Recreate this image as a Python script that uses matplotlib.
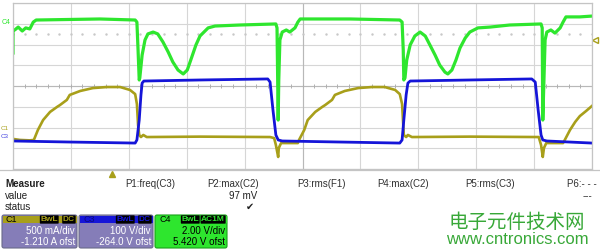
import matplotlib
matplotlib.use("Agg")
import matplotlib.pyplot as plt
from matplotlib.patches import Rectangle, FancyBboxPatch
import numpy as np

plt.rcParams['font.family'] = ['Liberation Sans', 'DejaVu Sans']

# screen positions in divisions (x: 0..10, y: -4..4)
c1_t = [0.00, 0.12, 0.29, 0.36, 0.43, 0.52, 0.64, 0.76, 0.81, 0.93, 0.98, 1.16, 1.38, 1.62, 1.85,
        2.02, 2.11, 2.14, 2.16, 2.18, 2.21, 2.25, 2.31, 3.23, 4.44, 4.51, 4.54, 4.58, 4.59, 4.63,
        4.92, 4.94, 5.03, 5.09, 5.22, 5.34, 5.39, 5.51, 5.56, 5.73, 5.96, 6.20, 6.42, 6.60, 6.68,
        6.72, 6.74, 6.75, 6.79, 6.82, 6.89, 7.89, 9.08, 9.12, 9.15, 9.17, 9.21, 9.50, 9.53, 9.62,
        9.71, 9.79, 9.90, 10.00]
c1_v = [-2.55, -2.60, -2.62, -2.60, -2.12, -1.64, -1.25, -1.01, -0.92, -0.67, -0.43, -0.24, -0.10,
        -0.05, -0.05, -0.19, -0.39, -0.87, -1.88, -2.36, -2.46, -2.36, -2.46, -2.44, -2.46, -2.51,
        -2.84, -3.42, -2.99, -2.75, -2.75, -2.60, -2.12, -1.64, -1.25, -1.01, -0.92, -0.67, -0.43,
        -0.24, -0.10, -0.05, -0.05, -0.19, -0.39, -0.87, -1.88, -2.36, -2.46, -2.36, -2.46, -2.44,
        -2.46, -2.84, -3.42, -2.99, -2.75, -2.75, -2.60, -2.12, -1.73, -1.45, -1.20, -0.96]

c3_t = [0.00, 0.98, 2.11, 2.14, 2.18, 2.21, 2.23, 2.26, 3.23, 4.40, 4.44, 4.49, 4.54, 4.58, 4.65,
        5.65, 6.68, 6.72, 6.75, 6.79, 6.82, 6.86, 7.89, 8.96, 9.02, 9.07, 9.12, 9.15, 9.22, 10.00]
c3_v = [-2.65, -2.70, -2.75, -2.60, -1.64, -0.43, 0.14, 0.24, 0.29, 0.34, 0.19, -1.16, -2.36, -2.60,
        -2.65, -2.70, -2.75, -2.60, -1.64, -0.43, 0.14, 0.24, 0.29, 0.34, 0.19, -1.16, -2.36, -2.60,
        -2.65, -2.75]

c4_t = [0.00, 0.00, 0.03, 0.09, 0.16, 0.22, 0.29, 0.35, 0.40, 1.50, 2.11, 2.14, 2.16, 2.18, 2.19,
        2.23, 2.28, 2.33, 2.42, 2.50, 2.59, 2.68, 2.76, 2.85, 2.94, 3.01, 3.07, 3.16, 3.23, 3.37,
        3.49, 3.92, 4.54, 4.56, 4.58, 4.59, 4.61, 4.65, 4.72, 4.78, 4.87, 4.92, 4.96, 5.82, 6.68,
        6.72, 6.74, 6.75, 6.77, 6.80, 6.86, 6.94, 7.03, 7.12, 7.20, 7.29, 7.37, 7.46, 7.51, 7.58,
        7.65, 7.72, 7.81, 7.89, 8.03, 8.24, 8.58, 9.12, 9.14, 9.15, 9.17, 9.19, 9.22, 9.29, 9.36,
        9.45, 9.50, 9.55, 9.79, 10.00]
c4_v = [1.59, 2.70, 2.70, 2.84, 2.65, 2.80, 2.75, 3.08, 3.18, 3.23, 3.18, 3.08, 1.73, 0.29, 0.39,
        1.49, 2.22, 2.51, 2.60, 2.51, 2.12, 1.64, 1.16, 0.77, 0.58, 0.77, 1.25, 1.98, 2.41, 2.80,
        2.89, 2.94, 2.99, 2.80, -1.64, 0.29, 2.22, 2.60, 2.70, 2.60, 2.80, 3.08, 3.23, 3.23, 3.18,
        3.08, 1.73, 0.29, 0.39, 1.25, 1.98, 2.41, 2.60, 2.41, 1.98, 1.49, 1.01, 0.67, 0.58, 0.77,
        1.25, 1.83, 2.31, 2.60, 2.80, 2.84, 2.94, 2.99, 2.80, -1.64, 0.29, 2.22, 2.60, 2.70, 2.55,
        2.80, 3.08, 3.33, 3.33, 3.37]

measure_cols = ["P1:freq(C3)", "P2:max(C2)", "P3:rms(F1)", "P4:max(C2)", "P5:rms(C3)", "P6:- - -"]

olive = '#a89f1a'
blue = '#1515d8'
green = '#2ee62e'

fig = plt.figure(figsize=(6, 2.5), dpi=100)
fig.patch.set_facecolor('white')

ax = fig.add_axes([13/600, 81/250, 579/600, 166/250])
ax.set_xlim(0, 10)
ax.set_ylim(-4, 4)
ax.set_xticks(range(11))
ax.set_yticks(range(-4, 5))
ax.grid(True, color='#d6d6d6', lw=0.8)
ax.tick_params(length=0, labelbottom=False, labelleft=False)
for s in ax.spines.values():
    s.set_color('#c4c4c4')
    s.set_linewidth(0.9)
ax.axhline(0, color='#b8b8b8', lw=0.8)
ax.axvline(5, color='#b8b8b8', lw=0.8)
ticks = np.arange(0, 10.01, 0.2)
ax.plot(ticks, np.zeros_like(ticks), ls='none', marker='|', ms=3, color='#b0b0b0', mew=0.7)
ax.plot(ticks, np.full_like(ticks, 2.5), ls='none', marker='.', ms=1.5, color='#c8c8c8')

ax.plot(c1_t, c1_v, color=olive, lw=1.9, solid_joinstyle='round')
ax.plot(c3_t, c3_v, color=blue, lw=2.0, solid_joinstyle='round')
ax.plot(c4_t, c4_v, color=green, lw=2.3, solid_joinstyle='round')

# overlay in pixel coords for the scope decorations
ov = fig.add_axes([0, 0, 1, 1], zorder=-1)
ov.set_xlim(0, 600)
ov.set_ylim(250, 0)
ov.axis('off')
ov.plot([0, 600], [169.5, 169.5], color='#c4c4c4', lw=0.9)
ov.text(2, 22, "C4", color=green, fontsize=5, va='center')
ov.text(1, 128.5, "C1", color=olive, fontsize=4.5, va='center')
ov.text(1, 137, "C3", color=blue, fontsize=4.5, va='center', alpha=0.8)
ov.plot([112], [174], marker='^', color=olive, ms=5)
ov.plot([594.5], [40], marker='<', color=olive, ms=4.5, mfc='none', mew=1)

# measure table
ov.text(5, 184, "Measure", fontsize=7, fontweight='bold', va='center', color='#202020')
col_x = [125, 207, 297, 377, 465, 567]
for x, lab in zip(col_x, measure_cols):
    ov.text(x, 184, lab, fontsize=7, va='center', color='#303030')
ov.text(5, 196, "value", fontsize=7, va='center', color='#202020')
ov.text(5, 207, "status", fontsize=7, va='center', color='#202020')
ov.text(257, 196, "97 mV", fontsize=7, va='center', ha='right', color='#202020')
ov.text(250, 207, "\u2714", fontsize=7, va='center', ha='center', color='#202020',
        family='DejaVu Sans')
ov.text(592, 196, "---", fontsize=7, va='center', ha='right', color='#303030')

# channel boxes
boxes = [
    (2, 77, olive, '#857db8', "C1", ["BwL", "DC"], "500 mA/div", "-1.210 A ofst", 'white', False),
    (79, 153, blue, '#857db8', "C3", ["BwL", "DC"], "100 V/div", "-264.0 V ofst", 'white', False),
    (155, 227, green, green, "C4", ["BwL", "AC1M"], "2.00 V/div", "5.420 V ofst", 'black', True),
]
for x0, x1, hc, bc, name, tags, l1, l2, tc, full in boxes:
    ov.add_patch(FancyBboxPatch((x0, 215), x1 - x0, 33, boxstyle='round,pad=0,rounding_size=2',
                                fc=bc, ec='#6a6a8a' if not full else '#1aa01a', lw=0.8))
    ov.add_patch(Rectangle((x0 + 0.5, 215.5), x1 - x0 - 1, 7.5, fc=hc, ec='none'))
    ov.text(x0 + 4, 219.5, name, fontsize=6.5, va='center',
            color='black' if hc != blue else '#0a0a80')
    tx = x1 - 2
    for tg in reversed(tags):
        ov.text(tx, 219.5, tg, fontsize=6, va='center', ha='right', color=hc,
                fontweight='bold',
                bbox=dict(boxstyle='round,pad=0.08', fc='black', ec='none'))
        tx -= 8 + 4.5 * len(tg)
    ov.text(x1 - 2, 231, l1, fontsize=7, va='center', ha='right', color=tc)
    ov.text(x1 - 2, 242, l2, fontsize=7, va='center', ha='right', color=tc)

# watermark
ov.text(517, 222, "电子元件技术网", fontsize=14, va='center', ha='center', color='#38a838',
        family=['Noto Sans CJK SC', 'DejaVu Sans'])
ov.text(517, 240, "www.cntronics.com", fontsize=12, va='center', ha='center', color='#38a838')

fig.savefig("out.png", dpi=100)
